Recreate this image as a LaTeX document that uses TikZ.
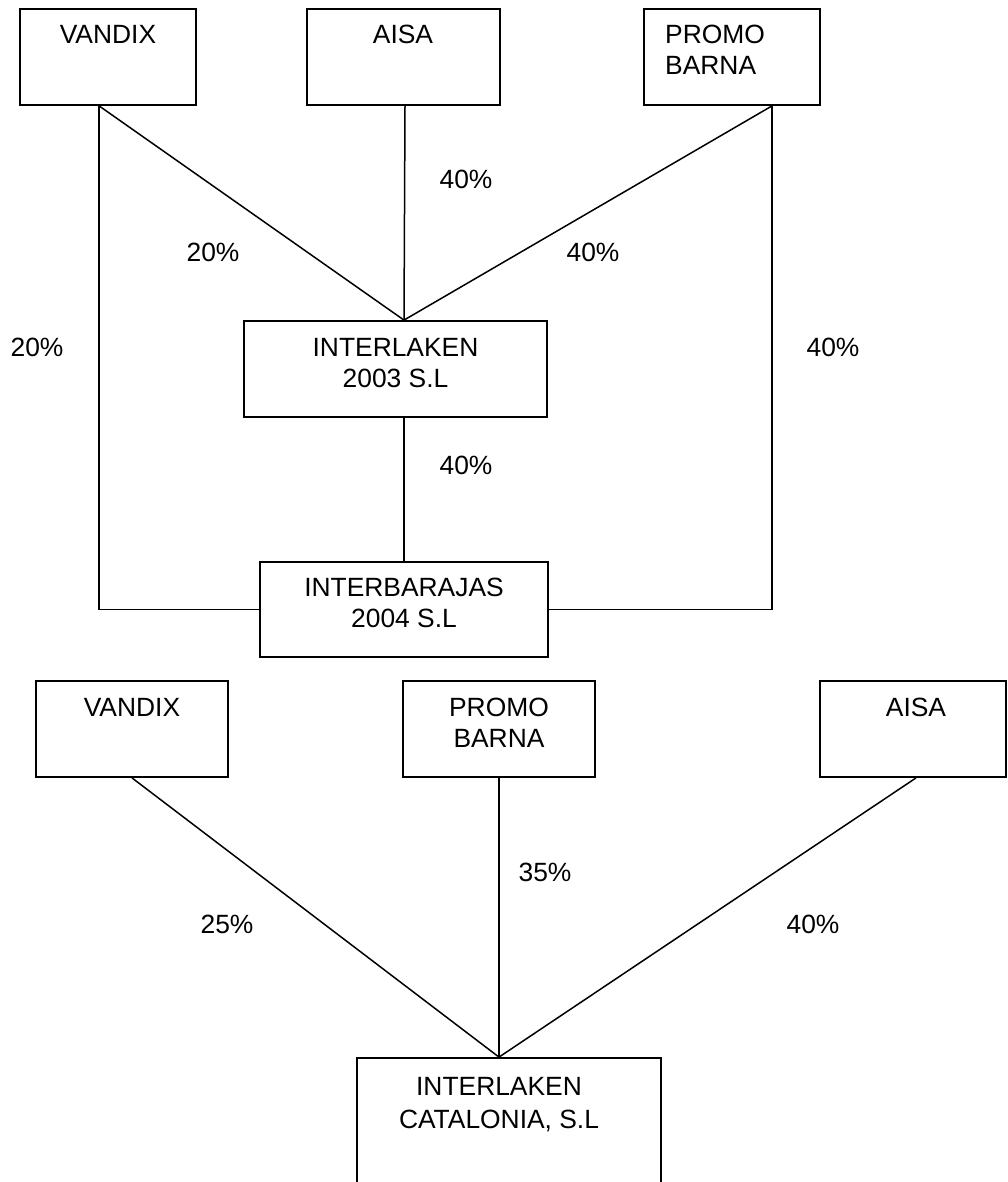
\documentclass[tikz,border=0pt]{standalone}
\usepackage{fontspec}
\setmainfont{Liberation Sans}
\begin{document}
\begin{tikzpicture}[x=1pt,y=-1pt,
  box/.style={draw, line width=1.8pt, inner sep=0pt},
  txt/.style={font=\fontsize{26.4}{31}\selectfont, inner sep=0pt, anchor=base},
  pct/.style={font=\fontsize{26.4}{31}\selectfont, inner sep=0pt, anchor=center},
  conn/.style={line width=1.5pt}]
\useasboundingbox (0,0) rectangle (1007,1182);
% ---- top group ----
\node[box, minimum width=176pt, minimum height=96pt] (v1) at (108,57) {};
\node[txt] (v1t) at (108,44) {VANDIX};
\node[box, minimum width=193pt, minimum height=96pt] (a1) at (403.5,57) {};
\node[txt] (a1t) at (403,44) {AISA};
\node[box, minimum width=176pt, minimum height=96pt] (p1) at (732,57) {};
\node[txt, anchor=base west] (p1t) at (665,44) {PROMO};
\node[txt, anchor=base west] (p1u) at (665,75) {BARNA};
\node[box, minimum width=303pt, minimum height=96pt] (il) at (395.5,369) {};
\node[txt] (ilt) at (395.5,356) {INTERLAKEN};
\node[txt] (ilu) at (395.5,387) {2003 S.L};
\node[box, minimum width=288pt, minimum height=95pt] (ib) at (404,609.5) {};
\node[txt] (ibt) at (404,596) {INTERBARAJAS};
\node[txt] (ibu) at (404,627) {2004 S.L};
\draw[conn] ([xshift=80pt]v1.south west) -- ([xshift=8.5pt]il.north);
\draw[conn] ([xshift=1.5pt]a1.south) -- ([xshift=8.5pt]il.north);
\draw[conn] ([xshift=40pt]p1.south) -- ([xshift=8.5pt]il.north);
\draw[conn] ([xshift=8.5pt]il.south) -- (ib.north);
\draw[conn] ([xshift=80pt]v1.south west) |- (ib.west);
\draw[conn] ([xshift=40pt]p1.south) |- (ib.east);
\node[pct] (q1) at (213,252) {20\%};
\node[pct] (q2) at (466,179) {40\%};
\node[pct] (q3) at (593,252) {40\%};
\node[pct] (q4) at (37,347) {20\%};
\node[pct] (q5) at (833,347) {40\%};
\node[pct] (q6) at (466,465) {40\%};
% ---- bottom group ----
\node[box, minimum width=192pt, minimum height=96pt] (v2) at (132,729) {};
\node[txt] (v2t) at (132,716) {VANDIX};
\node[box, minimum width=192pt, minimum height=96pt] (p2) at (499,729) {};
\node[txt] (p2t) at (499,716) {PROMO};
\node[txt] (p2u) at (499,747) {BARNA};
\node[box, minimum width=186pt, minimum height=96pt] (a2) at (913,729) {};
\node[txt] (a2t) at (916,716) {AISA};
\node[box, minimum width=304pt, minimum height=140pt] (ic) at (509,1128) {};
\node[txt] (ict) at (499,1095) {INTERLAKEN};
\node[txt] (icu) at (499,1128) {CATALONIA, S.L};
\draw[conn] (v2.south) -- ([xshift=-10pt]ic.north);
\draw[conn] (p2.south) -- ([xshift=-10pt]ic.north);
\draw[conn] ([xshift=3pt]a2.south) -- ([xshift=-10pt]ic.north);
\node[pct] (q7) at (227,924) {25\%};
\node[pct] (q8) at (545,872) {35\%};
\node[pct] (q9) at (813,924) {40\%};
\end{tikzpicture}
\end{document}
